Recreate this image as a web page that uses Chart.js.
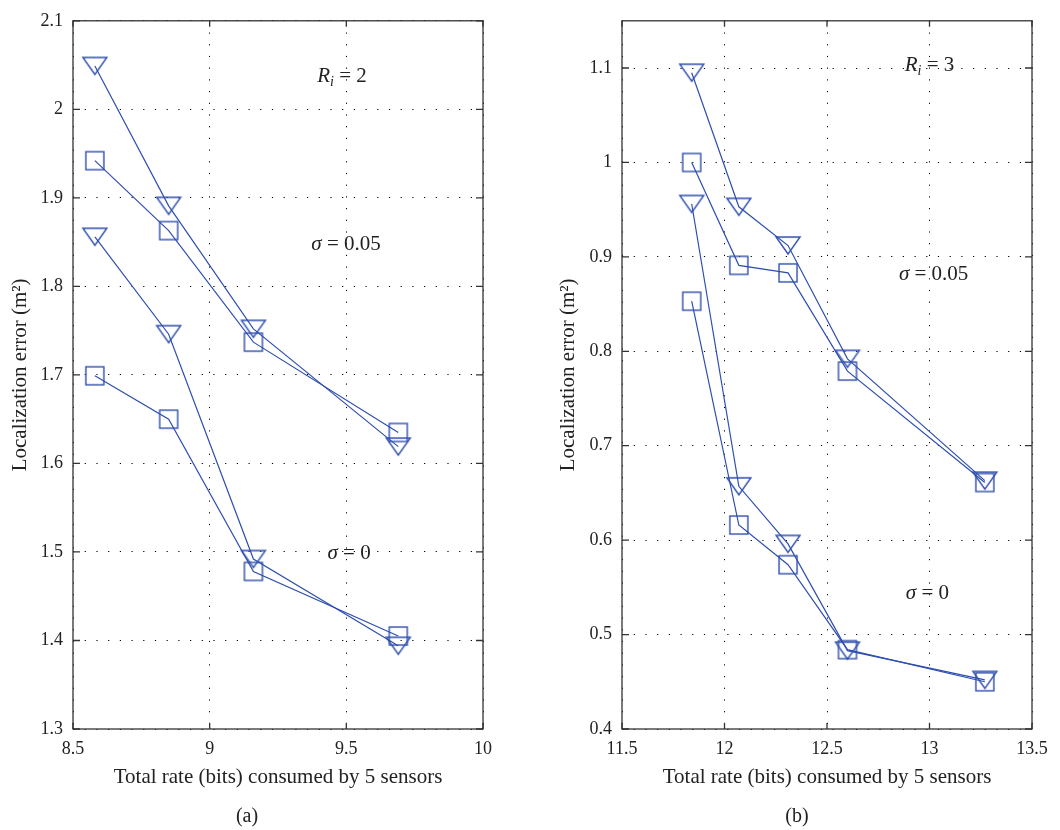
<!DOCTYPE html>
<html>
<head>
<meta charset="utf-8">
<script src="https://cdn.jsdelivr.net/npm/chart.js@4.4.1/dist/chart.umd.min.js"></script>
<style>
  body { margin: 0; background: #fff; }
  #wrap { position: relative; width: 1060px; height: 830px; }
  .box { position: absolute; top: 0; width: 530px; height: 830px; }
  .cap { position: absolute; top: 804px; font: 20px "Liberation Serif", serif; color: #222; transform: translateX(-50%); }
</style>
</head>
<body>
<div id="wrap">
  <div class="box" style="left:0"><canvas id="chartA"></canvas></div>
  <div class="box" style="left:530px"><canvas id="chartB"></canvas></div>
  <div class="cap" style="left:247px">(a)</div>
  <div class="cap" style="left:797px">(b)</div>
</div>
<script>
// panel (a): R_i = 2
const rateA = [8.58, 8.85, 9.16, 9.69];
const aTri005 = [2.049, 1.891, 1.752, 1.619];
const aSq005 = [1.942, 1.863, 1.737, 1.635];
const aTri0 = [1.856, 1.746, 1.492, 1.394];
const aSq0 = [1.699, 1.650, 1.478, 1.405];
const xTicksA = [8.5, 9, 9.5, 10];
const yTicksA = [1.3, 1.4, 1.5, 1.6, 1.7, 1.8, 1.9, 2, 2.1];

// panel (b): R_i = 3
const rateB = [11.84, 12.07, 12.31, 12.60, 13.27];
const bTri005 = [1.095, 0.953, 0.912, 0.792, 0.663];
const bSq005 = [1.000, 0.891, 0.883, 0.779, 0.661];
const bTri0 = [0.956, 0.657, 0.596, 0.483, 0.452];
const bSq0 = [0.853, 0.616, 0.574, 0.484, 0.450];
const xTicksB = [11.5, 12, 12.5, 13, 13.5];
const yTicksB = [0.4, 0.5, 0.6, 0.7, 0.8, 0.9, 1, 1.1];

const BLUE = '#2f4fae';
const FONT = '"Liberation Serif", "Times New Roman", serif';

// matlab-ish markers: flat down triangle and open square
function triMarker() {
  const w = 24, h = 17, c = document.createElement('canvas');
  c.width = w + 4; c.height = h + 4;
  const g = c.getContext('2d');
  g.strokeStyle = BLUE; g.lineWidth = 1.4;
  g.beginPath(); g.moveTo(2, 2); g.lineTo(w + 2, 2); g.lineTo(w / 2 + 2, h + 2); g.closePath(); g.stroke();
  return c;
}
function sqMarker() {
  const s = 18, c = document.createElement('canvas');
  c.width = s + 4; c.height = s + 4;
  const g = c.getContext('2d');
  g.strokeStyle = BLUE; g.lineWidth = 1.4;
  g.strokeRect(2, 2, s, s);
  return c;
}
const TRI = triMarker(), SQ = sqMarker();

function pts(xs, ys) { return xs.map((x, i) => ({ x: x, y: ys[i] })); }
function series(xs, ys, marker) {
  return {
    data: pts(xs, ys), showLine: true, borderColor: BLUE, borderWidth: 1.2,
    pointStyle: marker, pointRadius: 10, pointHoverRadius: 10, backgroundColor: 'transparent'
  };
}

// frame + inward ticks on all four sides
const framePlugin = {
  id: 'frame',
  afterDraw(chart) {
    const { ctx, chartArea: a, scales } = chart;
    ctx.save();
    ctx.strokeStyle = '#333'; ctx.lineWidth = 1.3;
    ctx.strokeRect(a.left, a.top, a.right - a.left, a.bottom - a.top);
    ctx.beginPath();
    scales.x.ticks.forEach(t => {
      const px = scales.x.getPixelForValue(t.value);
      ctx.moveTo(px, a.bottom); ctx.lineTo(px, a.bottom - 6);
      ctx.moveTo(px, a.top); ctx.lineTo(px, a.top + 6);
    });
    scales.y.ticks.forEach(t => {
      const py = scales.y.getPixelForValue(t.value);
      ctx.moveTo(a.left, py); ctx.lineTo(a.left + 7, py);
      ctx.moveTo(a.right, py); ctx.lineTo(a.right - 7, py);
    });
    ctx.stroke();
    ctx.restore();
  }
};

// text notes inside the plot, placed in data units
const notePlugin = {
  id: 'notes',
  afterDatasetsDraw(chart, args, opts) {
    const { ctx, scales } = chart;
    ctx.save();
    ctx.fillStyle = '#222';
    ctx.textBaseline = 'middle';
    (opts.items || []).forEach(it => {
      const parts = it.parts.map(p => {
        const size = p.sub ? 14 : 21;
        const f = (p.it ? 'italic ' : '') + size + 'px ' + FONT;
        ctx.font = f;
        return { t: p.t, f: f, w: ctx.measureText(p.t).width, sub: p.sub };
      });
      const total = parts.reduce((s, p) => s + p.w, 0);
      let x = scales.x.getPixelForValue(it.x) - total / 2;
      const y = scales.y.getPixelForValue(it.y);
      parts.forEach(p => {
        ctx.font = p.f;
        ctx.fillText(p.t, x, p.sub ? y + 6 : y);
        x += p.w;
      });
    });
    ctx.restore();
  }
};

function makeChart(id, xs, sets, xTicks, yTicks, xr, yr, pad, yWidth, notes) {
  return new Chart(document.getElementById(id), {
    type: 'scatter',
    data: {
      datasets: [
        series(xs, sets[0], TRI),
        series(xs, sets[1], SQ),
        series(xs, sets[2], TRI),
        series(xs, sets[3], SQ)
      ]
    },
    options: {
      responsive: false,
      animation: false,
      layout: { padding: pad },
      plugins: { legend: { display: false }, tooltip: { enabled: false }, notes: { items: notes } },
      scales: {
        x: {
          type: 'linear', min: xr[0], max: xr[1],
          afterBuildTicks: s => { s.ticks = xTicks.map(v => ({ value: v })); },
          afterFit: s => { s.height = 101; },
          grid: { color: '#000', lineWidth: 1, drawTicks: false },
          border: { display: false, dash: [1.2, 10.5] },
          ticks: { padding: 9, color: '#222', font: { family: FONT, size: 18 }, callback: v => String(v) },
          title: { display: true, text: 'Total rate (bits) consumed by 5 sensors', color: '#222',
                   font: { family: FONT, size: 21 }, padding: { top: 0, bottom: 40 } }
        },
        y: {
          type: 'linear', min: yr[0], max: yr[1],
          afterBuildTicks: s => { s.ticks = yTicks.map(v => ({ value: v })); },
          afterFit: s => { s.width = yWidth; },
          grid: { color: '#000', lineWidth: 1, drawTicks: false },
          border: { display: false, dash: [1.2, 10.5] },
          ticks: { padding: 10, color: '#222', font: { family: FONT, size: 18 }, callback: v => String(v) },
          title: { display: true, text: 'Localization error (m²)', color: '#222',
                   font: { family: FONT, size: 21 }, padding: { top: 8, bottom: 0 } }
        }
      }
    },
    plugins: [framePlugin, notePlugin]
  });
}

function sizeCanvas(id) {
  const c = document.getElementById(id);
  c.width = 530; c.height = 830;
  c.style.width = '530px'; c.style.height = '830px';
}
sizeCanvas('chartA'); sizeCanvas('chartB');

makeChart('chartA', rateA, [aTri005, aSq005, aTri0, aSq0], xTicksA, yTicksA,
  [8.5, 10], [1.3, 2.1], { top: 10, right: 47, left: 0, bottom: 0 }, 73, [
    { x: 9.484, y: 2.037, parts: [{ t: 'R', it: true }, { t: 'i', it: true, sub: true }, { t: ' = 2' }] },
    { x: 9.499, y: 1.847, parts: [{ t: 'σ', it: true }, { t: ' = 0.05' }] },
    { x: 9.51, y: 1.498, parts: [{ t: 'σ', it: true }, { t: ' = 0' }] }
  ]);

makeChart('chartB', rateB, [bTri005, bSq005, bTri0, bSq0], xTicksB, yTicksB,
  [11.5, 13.5], [0.4, 1.15], { top: 10, right: 28, left: 18, bottom: 0 }, 74, [
    { x: 13.0, y: 1.103, parts: [{ t: 'R', it: true }, { t: 'i', it: true, sub: true }, { t: ' = 3' }] },
    { x: 13.02, y: 0.881, parts: [{ t: 'σ', it: true }, { t: ' = 0.05' }] },
    { x: 12.99, y: 0.543, parts: [{ t: 'σ', it: true }, { t: ' = 0' }] }
  ]);
</script>
</body>
</html>
